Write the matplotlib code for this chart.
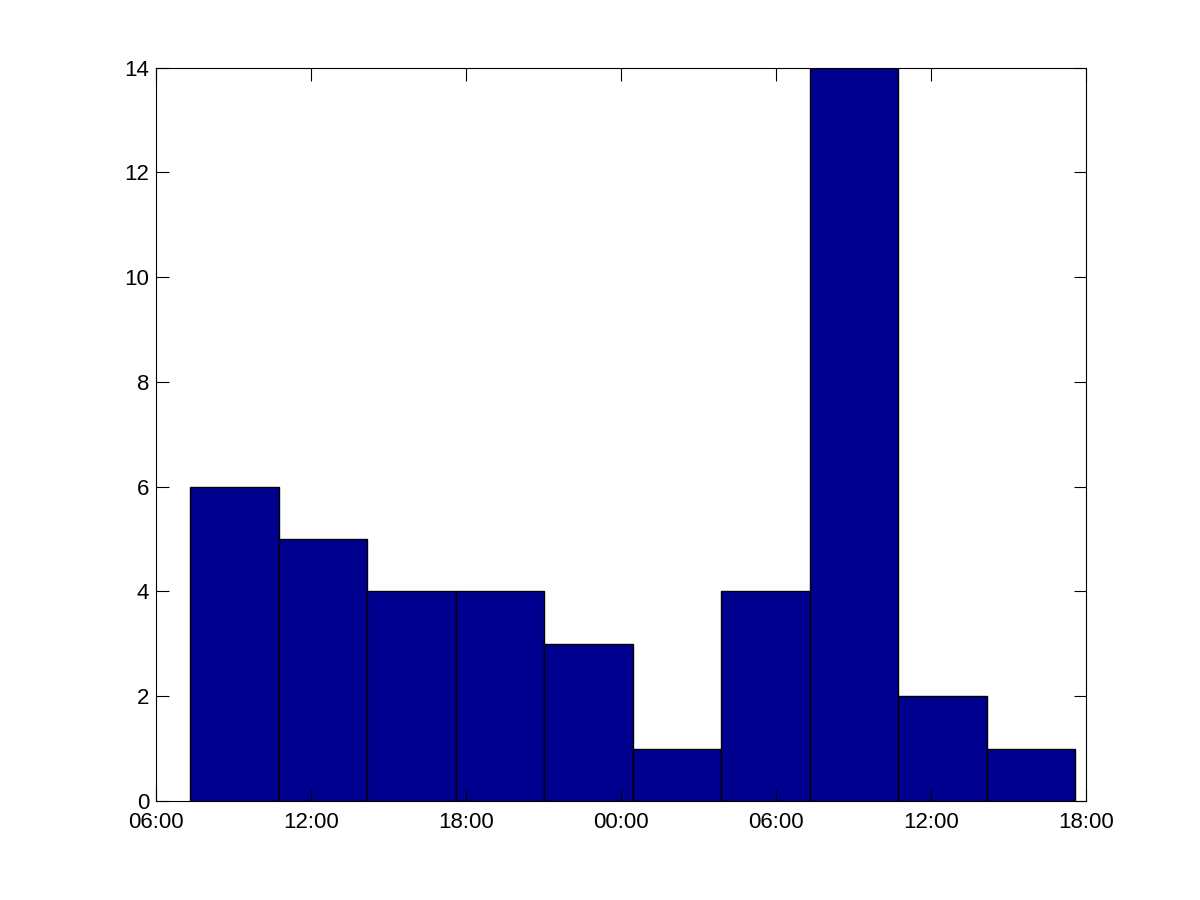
import matplotlib
matplotlib.use("Agg")
import matplotlib.pyplot as plt
import numpy as np

# Data (hours measured from 06:00 on day 1)
tick_labels = ["06:00", "12:00", "18:00", "00:00", "06:00", "12:00", "18:00"]
tick_hours = [0, 6, 12, 18, 24, 30, 36]
counts = [6, 5, 4, 4, 3, 1, 4, 14, 2, 1]
first_edge = 1.32   # hours after 06:00 (~07:19)
bin_width = 3.426   # hours

plt.rcParams['font.family'] = ['Liberation Sans', 'DejaVu Sans']

fig = plt.figure(figsize=(12, 9), dpi=100)
ax = fig.add_axes([0.13, 0.11, 0.775, 0.815])

lefts = first_edge + bin_width * np.arange(len(counts))
ax.bar(lefts, counts, width=bin_width, align='edge', color='#00008F',
       edgecolor='black', linewidth=1.0)

ax.set_xlim(0, 36)
ax.set_ylim(0, 14)
ax.set_xticks(tick_hours)
ax.set_xticklabels(tick_labels)
ax.set_yticks(range(0, 15, 2))
ax.tick_params(direction='in', length=9, width=0.8, labelsize=16,
               top=True, right=True)
ax.tick_params(axis='x', pad=8)
ax.tick_params(axis='y', pad=5)
for s in ax.spines.values():
    s.set_linewidth(0.8)

fig.savefig("out.png", dpi=100)
